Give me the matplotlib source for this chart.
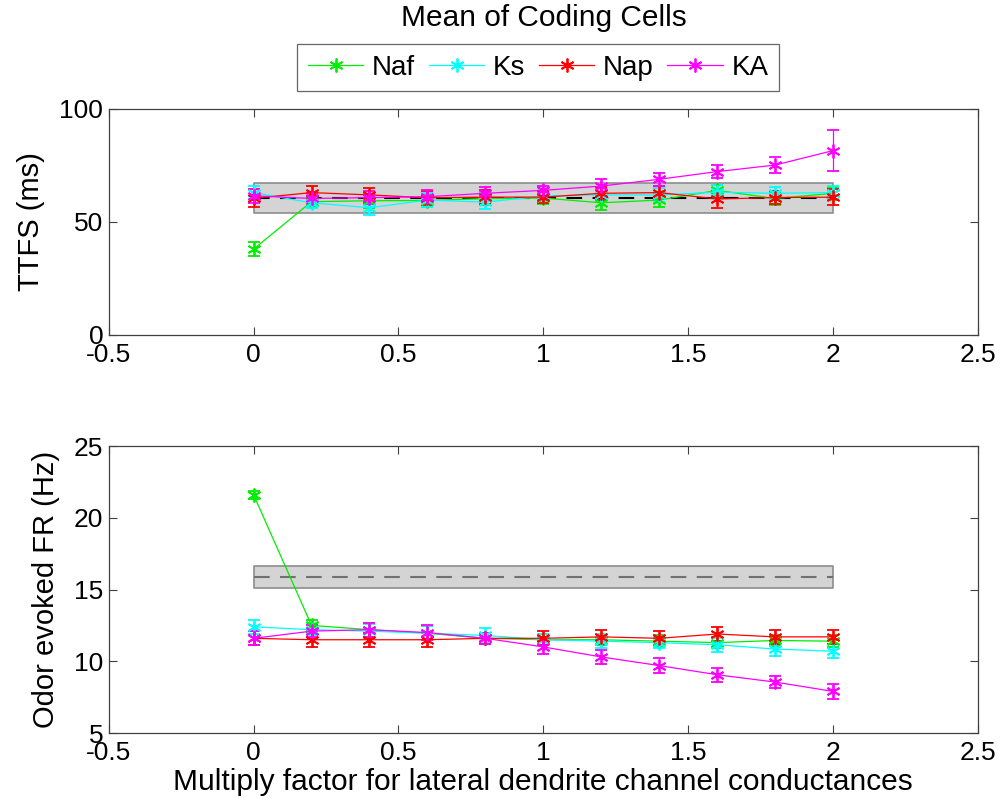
import matplotlib
matplotlib.use('Agg')
import matplotlib.pyplot as plt

plt.rcParams['font.family'] = ['Liberation Sans', 'DejaVu Sans']

# multiply factors for the lateral dendrite conductances
factor = [0, 0.2, 0.4, 0.6, 0.8, 1.0, 1.2, 1.4, 1.6, 1.8, 2.0]
names = ['Naf', 'Ks', 'Nap', 'KA']
colors = ['#00ee00', '#00ffff', '#ff0000', '#ff00ff']

# time to first spike (ms), mean and error
ttfs_naf = [38, 59, 59.4, 59.5, 60.4, 60.6, 58.5, 59.7, 64, 60.4, 62.7]
ttfs_ks = [63, 58.5, 56.3, 59.7, 58.8, 61.5, 62, 62, 63.2, 62.7, 63]
ttfs_nap = [60.5, 63, 62, 60.7, 61, 61, 62.7, 63, 60.2, 60.8, 61]
ttfs_ka = [61.6, 60.4, 60.8, 61.2, 62.7, 64, 65.9, 68.9, 72.3, 75.2, 81.6]
ttfs_naf_err = [3, 2.5, 3, 3, 3, 2.5, 3, 3, 2.5, 3, 3]
ttfs_ks_err = [3, 2.5, 3, 3, 3, 2.5, 3, 3, 3, 3, 3]
ttfs_nap_err = [4, 3, 3, 3, 3, 2.5, 3, 3, 4, 3, 3.5]
ttfs_ka_err = [3, 2.5, 3, 3, 3, 2, 3, 3, 3, 3.5, 9.2]
ttfs_ctrl = 60.5
ttfs_band = (53.8, 67.1)

# odor evoked firing rate (Hz), mean and error
fr_naf = [21.6, 12.5, 12.2, 11.95, 11.6, 11.5, 11.5, 11.4, 11.3, 11.45, 11.4]
fr_ks = [12.4, 12.2, 12.1, 11.95, 11.8, 11.5, 11.4, 11.3, 11.15, 10.85, 10.7]
fr_nap = [11.6, 11.5, 11.5, 11.5, 11.6, 11.6, 11.7, 11.6, 11.9, 11.7, 11.7]
fr_ka = [11.6, 12.1, 12.2, 12.0, 11.6, 11.0, 10.3, 9.7, 9.06, 8.55, 7.9]
fr_naf_err = [0.3, 0.4, 0.5, 0.5, 0.4, 0.4, 0.4, 0.4, 0.4, 0.4, 0.4]
fr_ks_err = [0.5, 0.4, 0.5, 0.5, 0.5, 0.4, 0.5, 0.4, 0.5, 0.5, 0.5]
fr_nap_err = [0.5, 0.5, 0.5, 0.5, 0.4, 0.5, 0.5, 0.5, 0.5, 0.5, 0.5]
fr_ka_err = [0.5, 0.4, 0.5, 0.5, 0.4, 0.5, 0.5, 0.5, 0.5, 0.4, 0.5]
fr_ctrl = 15.9
fr_band = (15.1, 16.65)

asterisk = (6, 2, 0)

fig = plt.figure(figsize=(10.02, 8.08), dpi=100)
ax1 = fig.add_axes([0.1085, 0.5854, 0.8675, 0.2797])
ax2 = fig.add_axes([0.1085, 0.0928, 0.8675, 0.3552])


def draw_panel(ax, series, errs, ctrl, band, dash_color):
    ax.fill_between([0, 2], band[0], band[1], facecolor='#d4d4d4',
                    edgecolor='#8c8c8c', linewidth=1.2, zorder=1)
    ax.plot([0, 2], [ctrl, ctrl], '--', color=dash_color, lw=1.5,
            dashes=(7.5, 5), zorder=2)
    for y, e, c, n in zip(series, errs, colors, names):
        ax.errorbar(factor, y, yerr=e, fmt='-', marker=asterisk, color=c,
                    lw=0.9, ms=10, mew=1.3, capsize=4, elinewidth=0.9,
                    capthick=0.9, label=n, zorder=3)
    ax.set_xlim(-0.5, 2.5)
    ax.set_xticks([-0.5, 0, 0.5, 1, 1.5, 2, 2.5])
    ax.set_xticklabels(['-0.5', '0', '0.5', '1', '1.5', '2', '2.5'])
    ax.tick_params(direction='in', top=True, right=True, labelsize=19,
                   length=6, width=0.8, color='#404040')
    ax.tick_params(axis='x', pad=6)
    ax.tick_params(axis='y', pad=4)
    for s in ax.spines.values():
        s.set_linewidth(0.9)
        s.set_color('#404040')


draw_panel(ax1, [ttfs_naf, ttfs_ks, ttfs_nap, ttfs_ka],
           [ttfs_naf_err, ttfs_ks_err, ttfs_nap_err, ttfs_ka_err],
           ttfs_ctrl, ttfs_band, 'black')
ax1.set_ylim(0, 100)
ax1.set_yticks([0, 50, 100])
ax1.set_ylabel('TTFS (ms)', fontsize=21, labelpad=10)

draw_panel(ax2, [fr_naf, fr_ks, fr_nap, fr_ka],
           [fr_naf_err, fr_ks_err, fr_nap_err, fr_ka_err],
           fr_ctrl, fr_band, '#707070')
ax2.set_ylim(5, 25)
ax2.set_yticks([5, 10, 15, 20, 25])
ax2.set_ylabel('Odor evoked FR (Hz)', fontsize=21, labelpad=10)
ax2.set_xlabel('Multiply factor for lateral dendrite channel conductances',
               fontsize=21.5, labelpad=2)

fig.text(0.543, 0.978, 'Mean of Coding Cells', fontsize=21.5,
         ha='center', va='center')

leg_handles = [plt.Line2D([], [], color=c, marker=asterisk, lw=0.9, ms=10,
                          mew=1.3) for c in colors]
leg = fig.legend(leg_handles, names, loc='center', ncol=4,
                 bbox_to_anchor=(0.537, 0.916), fontsize=20, frameon=True,
                 fancybox=False, edgecolor='#404040', handlelength=2.0,
                 handletextpad=0.3, columnspacing=0.5, borderpad=0.38,
                 borderaxespad=0)
leg.get_frame().set_linewidth(0.9)

fig.savefig('out.png', dpi=100)
